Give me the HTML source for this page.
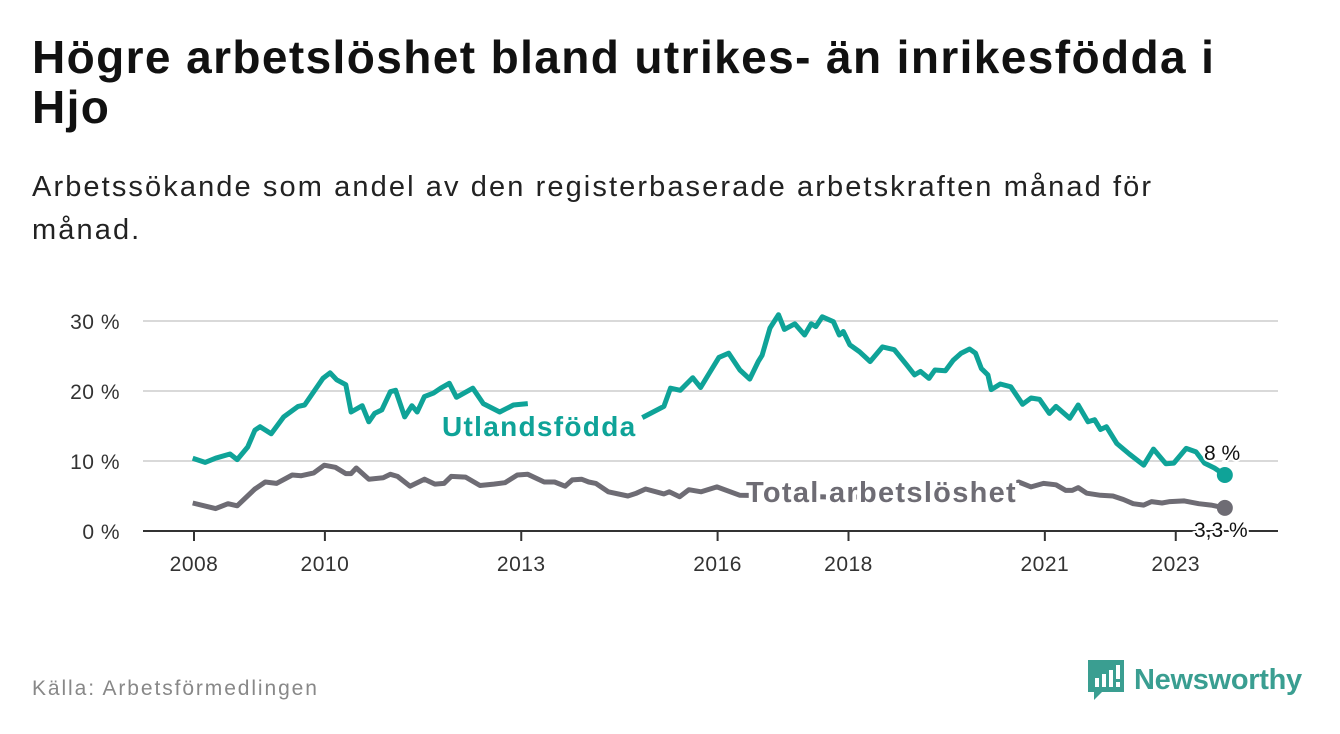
<!DOCTYPE html>
<html><head><meta charset="utf-8">
<style>
body{margin:0;width:1340px;height:734px;background:#fff;font-family:"Liberation Sans",sans-serif;overflow:hidden;position:relative}
h1{position:absolute;left:32px;top:32px;margin:0;font-size:46px;line-height:50px;font-weight:bold;color:#111;letter-spacing:1.4px;white-space:nowrap}
.sub{position:absolute;left:32px;top:166px;font-size:29px;line-height:43px;color:#222;letter-spacing:2.1px;white-space:nowrap}
.src{position:absolute;left:32px;top:677px;font-size:21px;color:#888;letter-spacing:1.9px}
.logo{position:absolute;left:1088px;top:660px;display:flex;align-items:center}
.logo span{font-size:29px;color:#3a9e91;font-weight:bold;margin-left:10px;letter-spacing:-0.3px}
</style></head><body>
<h1>Högre arbetslöshet bland utrikes- än inrikesfödda i<br>Hjo</h1>
<div class="sub">Arbetssökande som andel av den registerbaserade arbetskraften månad för<br>månad.</div>
<svg id="chart" width="1340" height="734" style="position:absolute;left:0;top:0"></svg>
<div class="src">Källa: Arbetsförmedlingen</div>
<div class="logo">
<svg width="36" height="40" viewBox="0 0 36 40"><path d="M0 0H36V32H14L6 40V32H0Z" fill="#3a9e91"/><rect x="7" y="18" width="4" height="9" fill="#fff"/><rect x="14" y="14" width="4" height="13" fill="#fff"/><rect x="21" y="10" width="4" height="17" fill="#fff"/><rect x="28" y="5" width="4" height="14" fill="#fff"/><rect x="28" y="22" width="4" height="5" fill="#fff"/></svg>
<span>Newsworthy</span></div>
<script>
const yTicks=[0,10,20,30];
const xTicks=[2008,2010,2013,2016,2018,2021,2023];
const foreignT=[2007.98,2008.17,2008.33,2008.55,2008.66,2008.82,2008.93,2009.01,2009.18,2009.37,2009.59,2009.69,2009.97,2010.08,2010.18,2010.32,2010.4,2010.57,2010.67,2010.76,2010.87,2011.0,2011.08,2011.22,2011.33,2011.41,2011.52,2011.66,2011.77,2011.9,2012.01,2012.26,2012.42,2012.67,2012.88,2013.1,2014.0,2014.85,2015.18,2015.28,2015.43,2015.62,2015.74,2015.87,2016.02,2016.17,2016.34,2016.49,2016.62,2016.68,2016.8,2016.93,2017.02,2017.18,2017.33,2017.43,2017.5,2017.6,2017.77,2017.86,2017.92,2018.02,2018.17,2018.33,2018.52,2018.7,2018.89,2019.01,2019.1,2019.23,2019.32,2019.48,2019.6,2019.72,2019.85,2019.94,2020.03,2020.13,2020.18,2020.32,2020.48,2020.66,2020.79,2020.92,2021.07,2021.17,2021.38,2021.51,2021.66,2021.76,2021.85,2021.94,2022.1,2022.29,2022.51,2022.66,2022.85,2022.97,2023.16,2023.31,2023.44,2023.59,2023.75];
const foreignV=[10.4,9.8,10.4,11,10.2,12.0,14.4,14.9,13.9,16.3,17.8,18,21.8,22.6,21.6,20.9,17,17.9,15.6,16.8,17.3,19.9,20.1,16.3,17.9,17,19.2,19.7,20.4,21.1,19.1,20.4,18.2,17,18,18.2,null,16.2,17.8,20.4,20.1,21.9,20.5,22.5,24.8,25.4,23,21.7,24.2,25.1,29,30.9,28.8,29.6,28,29.6,29.2,30.6,29.9,28,28.5,26.6,25.6,24.2,26.3,25.9,23.7,22.3,22.8,21.8,23,22.9,24.4,25.4,26,25.4,23.2,22.3,20.2,21,20.6,18.1,19,18.8,16.8,17.8,16.1,18,15.6,15.9,14.5,14.9,12.5,11,9.4,11.7,9.6,9.7,11.8,11.3,9.7,9,8];
const totalT=[2007.98,2008.33,2008.52,2008.66,2008.93,2009.09,2009.26,2009.5,2009.64,2009.83,2009.99,2010.16,2010.32,2010.4,2010.48,2010.67,2010.89,2011.0,2011.11,2011.3,2011.52,2011.68,2011.82,2011.93,2012.15,2012.37,2012.58,2012.75,2012.94,2013.1,2013.35,2013.51,2013.67,2013.78,2013.92,2014.03,2014.14,2014.33,2014.63,2014.76,2014.9,2015.18,2015.26,2015.42,2015.56,2015.75,2015.99,2016.34,2017.0,2018.0,2019.0,2020.0,2020.6,2020.79,2020.98,2021.17,2021.32,2021.42,2021.51,2021.64,2021.85,2022.04,2022.2,2022.35,2022.51,2022.63,2022.79,2022.91,2023.13,2023.35,2023.54,2023.75];
const totalV=[4.0,3.2,3.9,3.6,6,7,6.8,8,7.9,8.3,9.4,9.1,8.2,8.2,9,7.4,7.6,8.1,7.8,6.4,7.4,6.7,6.8,7.8,7.7,6.5,6.7,6.9,8,8.1,7,7,6.4,7.3,7.4,7,6.8,5.6,5,5.4,6,5.3,5.6,4.9,5.9,5.6,6.3,5.1,5.0,4.8,5.2,5.5,7.0,6.3,6.8,6.6,5.8,5.8,6.2,5.4,5.1,5,4.5,3.9,3.7,4.2,4,4.2,4.3,3.9,3.7,3.3];
const NS='http://www.w3.org/2000/svg';
const svg=document.getElementById('chart');
const x=t=>194+(t-2008)*65.45;
const y=v=>531-v*7;
function mk(tag,attrs){const e=document.createElementNS(NS,tag);for(const k in attrs)e.setAttribute(k,attrs[k]);svg.appendChild(e);return e;}
yTicks.forEach(v=>{
  if(v>0){const g=mk('line',{x1:143,x2:1278,y1:y(v),y2:y(v),stroke:'#d9d9d9','stroke-width':2});
  
  }
  const t=mk('text',{x:120,y:y(v)+8,'text-anchor':'end','font-size':21,fill:'#333','letter-spacing':0.5});t.textContent=v+' %';
  
  
});
const ax=mk('line',{x1:143,x2:1278,y1:531,y2:531,stroke:'#333','stroke-width':2});


xTicks.forEach(yr=>{
  const tk=mk('line',{x1:x(yr),x2:x(yr),y1:531,y2:541,stroke:'#333','stroke-width':2});
  
  
  const t=mk('text',{x:x(yr),y:571,'text-anchor':'middle','font-size':21,fill:'#333','letter-spacing':0.5});t.textContent=yr;
  
  
});
function path(T,V){let d='',pen=false;T.forEach((t,i)=>{if(V[i]==null){pen=false;return;}d+=(pen?'L':'M')+x(t).toFixed(1)+','+y(V[i]).toFixed(1);pen=true;});return d;}
const lt=mk('path',{d:path(totalT,totalV),fill:'none',stroke:'#6e6c74','stroke-width':5,'stroke-linejoin':'round'});


const lf=mk('path',{d:path(foreignT,foreignV),fill:'none',stroke:'#0fa398','stroke-width':5,'stroke-linejoin':'round'});


const lastF=foreignV.length-1,lastT=totalV.length-1;
const df=mk('circle',{cx:x(foreignT[lastF]),cy:y(foreignV[lastF]),r:8,fill:'#0fa398'});


const dt=mk('circle',{cx:x(totalT[lastT]),cy:y(totalV[lastT]),r:8,fill:'#6e6c74'});


const l1=mk('text',{x:442,y:436,'font-size':28,'font-weight':'bold',fill:'#0fa398',stroke:'#fff','stroke-width':6,'paint-order':'stroke','letter-spacing':1.3});l1.textContent='Utlandsfödda';


const l2=mk('text',{x:746,y:502,'font-size':29,'font-weight':'bold',fill:'#6e6c74',stroke:'#fff','stroke-width':8,'paint-order':'stroke','letter-spacing':1.3});l2.textContent='Total arbetslöshet';


const v1=mk('text',{x:1204,y:460,'font-size':21,fill:'#111',stroke:'#fff','stroke-width':4,'paint-order':'stroke'});v1.textContent=String(foreignV[lastF]).replace('.',',')+' %';


const v2=mk('text',{x:1194,y:537,'font-size':21,fill:'#111',stroke:'#fff','stroke-width':4,'paint-order':'stroke'});v2.textContent=String(totalV[lastT]).replace('.',',')+' %';


</script>
</body></html>
